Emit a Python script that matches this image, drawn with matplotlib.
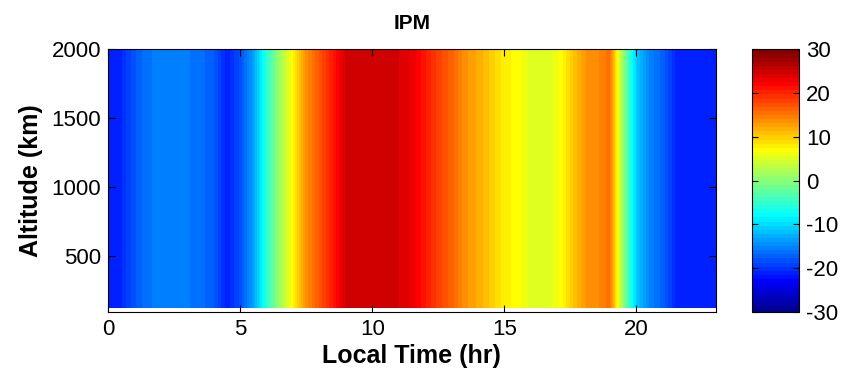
import numpy as np
import matplotlib
matplotlib.use("Agg")
import matplotlib.pyplot as plt
from matplotlib.colors import ListedColormap

plt.rcParams['font.family'] = ['Liberation Sans', 'DejaVu Sans']
plt.rcParams['axes.unicode_minus'] = False

# local time (hr), sampled every half hour
local_time = np.arange(0, 23.5, 0.5)
# IPM value at each local time (same at all altitudes)
ipm_values = [-21.0, -20.8, -18.0, -16.0, -15.8, -15.7, -15.8, -16.5,
              -17.7, -21.2, -18.5, -13.5, -5.5, 1.2, 7.4, 13.5,
              17.0, 20.5, 24.5, 25.0, 25.2, 25.0, 24.4, 23.2,
              20.8, 18.3, 16.4, 13.5, 12.0, 10.0, 8.0, 7.0,
              5.3, 5.0, 6.0, 9.5, 13.0, 13.8, 15.5, 0.5,
              -11.0, -15.3, -17.3, -20.8, -21.0, -21.0, -21.0]
altitude = [120, 2000]
x_ticks = [0, 5, 10, 15, 20]
y_ticks = [500, 1000, 1500, 2000]
cbar_ticks = [-30, -20, -10, 0, 10, 20, 30]


def matlab_jet(m=64):
    # same construction as MATLAB's jet(m)
    n = int(np.ceil(m / 4))
    u = np.concatenate([np.arange(1, n + 1) / n, np.ones(n - 1), np.arange(n, 0, -1) / n])
    g = int(np.ceil(n / 2)) - (1 if m % 4 == 1 else 0) + np.arange(1, len(u) + 1)
    r = g + n
    b = g - n
    cmap = np.zeros((m, 3))
    for idx, col in ((r, 0), (g, 1), (b, 2)):
        ok = (idx >= 1) & (idx <= m)
        cmap[idx[ok] - 1, col] = u[ok]
    return ListedColormap(cmap)


X, Y = np.meshgrid(local_time, altitude)
Z = np.tile(np.array(ipm_values), (len(altitude), 1))

fig = plt.figure(figsize=(8.5, 3.77), dpi=100)
ax = fig.add_axes([0.127, 0.173, 0.715, 0.696])
cax = fig.add_axes([0.885, 0.173, 0.055, 0.696])

levels = np.linspace(-30, 30, 65)
cs = ax.contourf(X, Y, Z, levels=levels, cmap=matlab_jet(64), vmin=-30, vmax=30)

ax.set_xlim(0, 23)
ax.set_ylim(95, 2000)
ax.set_xticks(x_ticks)
ax.set_yticks(y_ticks)
ax.tick_params(direction='in', top=True, right=True, labelsize=16, length=5, pad=5)
ax.set_xlabel('Local Time (hr)', fontsize=18, fontweight='bold', labelpad=3)
ax.set_ylabel('Altitude (km)', fontsize=18, fontweight='bold', labelpad=6)
ax.set_title('IPM', fontsize=15, fontweight='bold', pad=15)

cb = fig.colorbar(cs, cax=cax, ticks=cbar_ticks)
cb.ax.tick_params(direction='in', left=True, right=True, labelsize=16, length=4, pad=5)
cb.outline.set_linewidth(0.8)

fig.savefig('out.png', dpi=100)
